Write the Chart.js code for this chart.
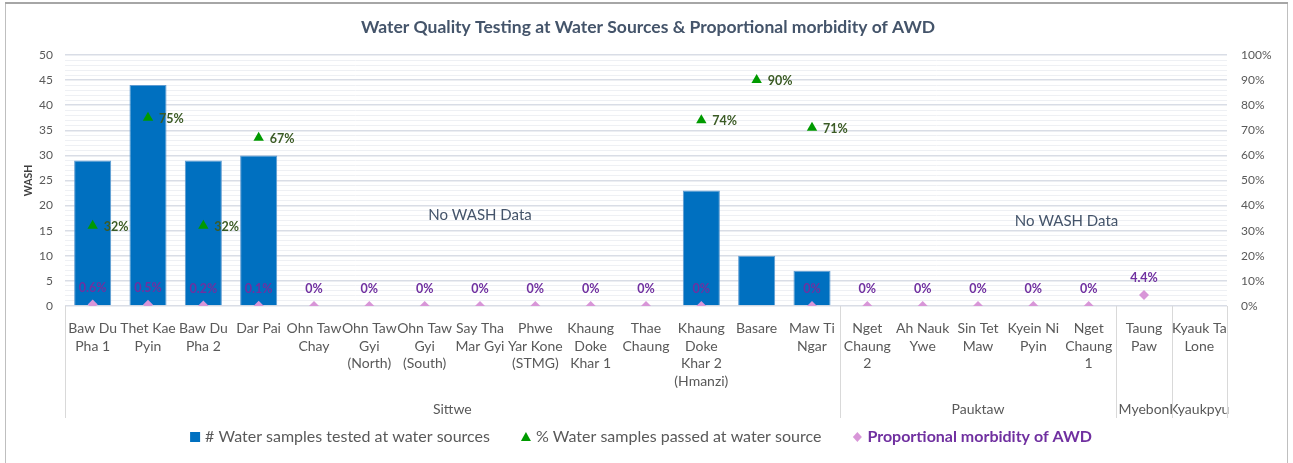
<!DOCTYPE html>
<html><head><meta charset="utf-8">
<script src="https://cdn.jsdelivr.net/npm/chart.js@4.4.1/dist/chart.umd.min.js"></script>
<style>html,body{margin:0;padding:0;background:#fff}#wrap{width:1293px;height:463px;position:relative}</style>
</head><body><div id="wrap"><canvas id="c"></canvas></div>
<script>
// ---------- data ----------
const categories = [
  ['Baw Du','Pha 1'], ['Thet Kae','Pyin'], ['Baw Du','Pha 2'], ['Dar Pai'],
  ['Ohn Taw','Chay'], ['Ohn Taw','Gyi','(North)'], ['Ohn Taw','Gyi','(South)'],
  ['Say Tha','Mar Gyi'], ['Phwe','Yar Kone','(STMG)'], ['Khaung','Doke','Khar 1'],
  ['Thae','Chaung'], ['Khaung','Doke','Khar 2','(Hmanzi)'], ['Basare'], ['Maw Ti','Ngar'],
  ['Nget','Chaung','2'], ['Ah Nauk','Ywe'], ['Sin Tet','Maw'], ['Kyein Ni','Pyin'],
  ['Nget','Chaung','1'], ['Taung','Paw'], ['Kyauk Ta','Lone']
];
const groups = ['Sittwe', 'Pauktaw', 'Myebon', 'Kyaukpyu'];
const groupSizes = [14, 5, 1, 1];
const samplesTested = [29, 44, 29, 30, null, null, null, null, null, null, null, 23, 10, 7, null, null, null, null, null, null, null];
const samplesPassedPct = [32, 75, 32, 67, null, null, null, null, null, null, null, 74, 90, 71, null, null, null, null, null, null, null];
const awdMorbidityPct = [0.6, 0.5, 0.2, 0.1, 0, 0, 0, 0, 0, 0, 0, 0, null, 0, 0, 0, 0, 0, 0, 4.4, null];
const leftTickMax = 50, leftTickStep = 5;
const rightTickMax = 100, rightTickStep = 10;
const noDataNotes = [
  { text: 'No WASH Data', at: 7, value: 18 },
  { text: 'No WASH Data', at: 17.6, value: 17 }
];
const titleText = 'Water Quality Testing at Water Sources & Proportional morbidity of AWD';
const legendItems = [
  { text: '# Water samples tested at water sources', kind: 'square' },
  { text: '% Water samples passed at water source', kind: 'triangle' },
  { text: 'Proportional morbidity of AWD', kind: 'diamond' }
];

// ---------- styles ----------
const FONT = 'Lato, "Open Sans", sans-serif';
const BLUE = '#0070C0', GREEN = '#009A00', PINK = '#D896D8', PURPLE = '#7030A0';
const LBL_GREEN = '#3B5B25', TXT = '#595959', TITLE = '#44546A';
const GRID_MAJOR = '#D9DDE6', GRID_MINOR = '#EEF0F4', SEP = '#D9D9D9';

const extras = {
  id: 'extras',
  beforeDraw(chart) {
    const ctx = chart.ctx;
    ctx.save();
    ctx.fillStyle = '#fff';
    ctx.fillRect(0, 0, chart.width, chart.height);
    ctx.strokeStyle = '#BFBFBF';
    ctx.lineWidth = 1;
    ctx.beginPath();
    ctx.moveTo(5.5, 470); ctx.lineTo(5.5, 3.5); ctx.lineTo(1287.5, 3.5); ctx.lineTo(1287.5, 470);
    ctx.stroke();
    ctx.strokeStyle = '#A6A6A6';
    ctx.lineWidth = 2;
    ctx.beginPath(); ctx.moveTo(5, 3); ctx.lineTo(1288, 3); ctx.stroke();
    ctx.restore();
  },
  afterDatasetsDraw(chart) {
    const ctx = chart.ctx;
    const x = chart.scales.x, y = chart.scales.y;
    const area = chart.chartArea;
    ctx.save();
    // title
    ctx.fillStyle = TITLE;
    ctx.font = 'bold 17.5px ' + FONT;
    ctx.textAlign = 'center'; ctx.textBaseline = 'middle';
    ctx.fillText(titleText, 648, 27);
    // axis title
    ctx.save();
    ctx.translate(29, (area.top + area.bottom) / 2);
    ctx.rotate(-Math.PI / 2);
    ctx.font = 'bold 10.5px ' + FONT;
    ctx.fillStyle = '#404040';
    ctx.fillText('WASH', 0, 0);
    ctx.restore();
    // no data notes
    ctx.font = '15px ' + FONT;
    ctx.fillStyle = TITLE;
    noDataNotes.forEach(n => {
      const i0 = Math.floor(n.at), f = n.at - i0;
      const px = x.getPixelForValue(i0) + f * (x.getPixelForValue(i0 + 1) - x.getPixelForValue(i0));
      ctx.fillText(n.text, px, y.getPixelForValue(n.value));
    });
    // triangle labels
    const m1 = chart.getDatasetMeta(0);
    ctx.font = 'bold 12.5px ' + FONT;
    ctx.fillStyle = LBL_GREEN;
    ctx.textAlign = 'left';
    m1.data.forEach((p, i) => {
      const v = samplesPassedPct[i];
      if (v === null) return;
      ctx.fillText(Math.round(v) + '%', p.x + 11, p.y + 1);
    });
    // morbidity labels
    const m2 = chart.getDatasetMeta(2);
    ctx.fillStyle = PURPLE;
    ctx.textAlign = 'center';
    m2.data.forEach((p, i) => {
      const v = awdMorbidityPct[i];
      if (v === null) return;
      const t = v === 0 ? '0%' : v.toFixed(1) + '%';
      ctx.fillText(t, p.x, p.y - 17);
    });
    // group separators and labels
    ctx.strokeStyle = SEP; ctx.lineWidth = 1;
    const half = (x.getPixelForValue(1) - x.getPixelForValue(0)) / 2;
    let start = 0;
    const edges = [x.getPixelForValue(0) - half];
    ctx.font = '14px ' + FONT;
    ctx.fillStyle = TXT;
    groups.forEach((g, gi) => {
      const end = start + groupSizes[gi] - 1;
      const l = x.getPixelForValue(start) - half, r = x.getPixelForValue(end) + half;
      edges.push(r);
      ctx.fillText(g, (l + r) / 2, 409);
      start = end + 1;
    });
    edges.forEach(e => {
      const ex = Math.round(e) + 0.5;
      ctx.beginPath(); ctx.moveTo(ex, area.bottom); ctx.lineTo(ex, 418); ctx.stroke();
    });
    // legend
    const LF = '16px ' + FONT;
    const gap = 31, sym = 10, sgap = 5;
    const widths = legendItems.map((it, i) => {
      ctx.font = (i === 2 ? 'bold ' : '') + LF;
      return sym + sgap + ctx.measureText(it.text).width;
    });
    const total = widths.reduce((a, b) => a + b, 0) + gap * (legendItems.length - 1);
    let lx = 641 - total / 2;
    const ly = 437;
    legendItems.forEach((it, i) => {
      const cx = lx + sym / 2;
      if (it.kind === 'square') {
        ctx.fillStyle = BLUE; ctx.fillRect(lx, ly - 5, 10, 10);
      } else if (it.kind === 'triangle') {
        ctx.fillStyle = GREEN; ctx.beginPath();
        ctx.moveTo(cx, ly - 5); ctx.lineTo(cx + 5, ly + 4); ctx.lineTo(cx - 5, ly + 4); ctx.closePath(); ctx.fill();
      } else {
        ctx.fillStyle = PINK; ctx.beginPath();
        ctx.moveTo(cx, ly - 5); ctx.lineTo(cx + 4.5, ly); ctx.lineTo(cx, ly + 5); ctx.lineTo(cx - 4.5, ly); ctx.closePath(); ctx.fill();
      }
      ctx.font = (i === 2 ? 'bold ' : '') + LF;
      ctx.fillStyle = i === 2 ? PURPLE : TXT;
      ctx.textAlign = 'left';
      ctx.fillText(it.text, lx + sym + sgap, ly);
      lx += widths[i] + gap;
    });
    ctx.restore();
  }
};

new Chart(document.getElementById('c'), {
  type: 'bar',
  data: {
    labels: categories,
    datasets: [
      { type: 'line', label: legendItems[1].text, data: samplesPassedPct, yAxisID: 'y1', showLine: false,
        pointStyle: 'triangle', pointRadius: 6, pointHoverRadius: 6, backgroundColor: GREEN, borderColor: GREEN, borderWidth: 0, order: 1 },
      { type: 'bar', label: legendItems[0].text, data: samplesTested, yAxisID: 'y', backgroundColor: BLUE,
        borderColor: '#5E9BD1', borderWidth: 1, barPercentage: 0.67, categoryPercentage: 1, order: 3 },
      { type: 'line', label: legendItems[2].text, data: awdMorbidityPct, yAxisID: 'y1', showLine: false,
        pointStyle: 'rectRot', pointRadius: 5, pointHoverRadius: 5, backgroundColor: PINK, borderColor: PINK, borderWidth: 0, order: 2 }
    ]
  },
  options: {
    responsive: true, maintainAspectRatio: false, animation: false,
    layout: { padding: { top: 55, left: 0, right: 0, bottom: 0 } },
    plugins: { legend: { display: false }, title: { display: false }, tooltip: { enabled: false } },
    scales: {
      x: {
        grid: { display: false }, border: { display: false },
        ticks: { autoSkip: false, maxRotation: 0, minRotation: 0, color: TXT, padding: 6,
          font: { family: FONT, size: 14, lineHeight: 1.25 } },
        afterFit(s) { s.height = 157; }
      },
      y: {
        position: 'left', min: 0, max: leftTickMax,
        border: { display: false },
        grid: { drawTicks: false, color: c => (c.tick && c.tick.value % leftTickStep === 0) ? GRID_MAJOR : GRID_MINOR, lineWidth: c => (c.tick && c.tick.value % leftTickStep === 0) ? 1.5 : 1 },
        ticks: { stepSize: 1, autoSkip: false, color: TXT, padding: 12, font: { family: FONT, size: 12 },
          callback: v => (v % leftTickStep === 0 ? String(v) : '') },
        afterFit(s) { s.width = 65; }
      },
      y1: {
        position: 'right', min: 0, max: rightTickMax,
        border: { display: false },
        grid: { display: false, drawOnChartArea: false },
        ticks: { stepSize: rightTickStep, color: TXT, padding: 6, font: { family: FONT, size: 12 },
          callback: v => v + '%' },
        afterFit(s) { s.width = 66; }
      }
    }
  },
  plugins: [extras]
});
</script>
</body></html>
